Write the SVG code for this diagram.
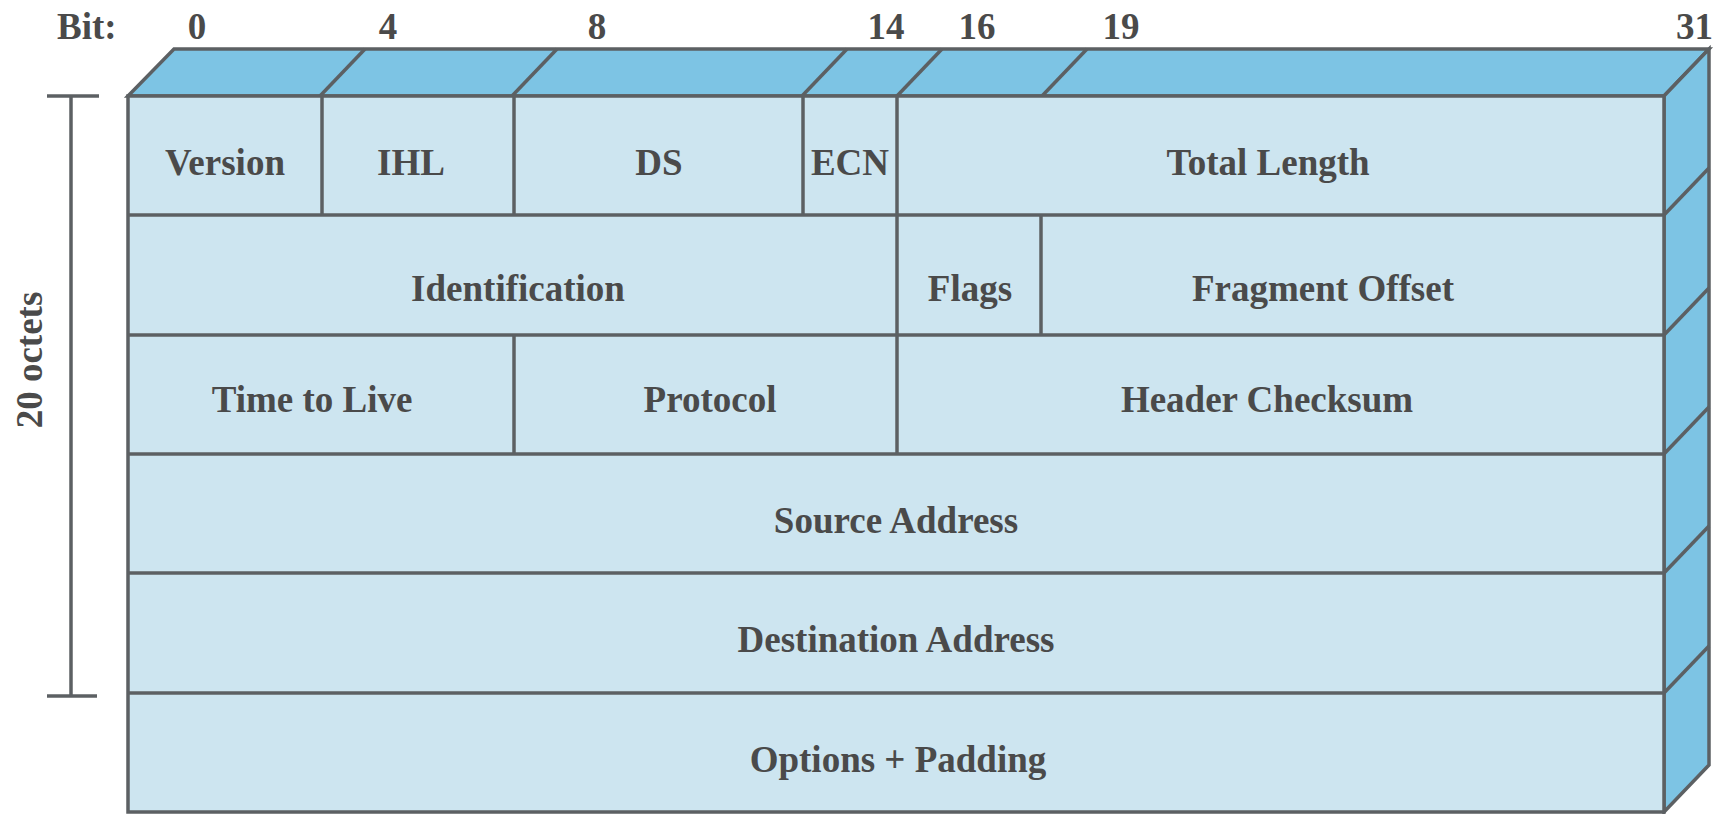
<svg xmlns="http://www.w3.org/2000/svg" width="1727" height="814" viewBox="0 0 1727 814">
<style>
.ln{stroke:#5c6063;stroke-width:3.5;fill:none;stroke-linejoin:miter}
.front{fill:#cde5f0}
.dark{fill:#7dc4e4}
text{font-family:"Liberation Serif","Times New Roman",serif;font-weight:bold;font-size:37px;fill:#4a4a4a}
.c{text-anchor:middle}
</style>
<rect width="1727" height="814" fill="#ffffff"/>
<g id="bit-labels">
<text x="57" y="39">Bit:</text>
<text class="c" x="197" y="39">0</text>
<text class="c" x="388" y="39">4</text>
<text class="c" x="597" y="39">8</text>
<text class="c" x="886" y="39">14</text>
<text class="c" x="977" y="39">16</text>
<text class="c" x="1121" y="39">19</text>
<text x="1713" y="39" text-anchor="end">31</text>
</g>
<g id="octets-bracket">
<line class="ln" x1="47" y1="96" x2="99" y2="96"/>
<line class="ln" x1="71" y1="96" x2="71" y2="696"/>
<line class="ln" x1="47" y1="696" x2="97" y2="696"/>
<text class="c" transform="translate(42,360) rotate(-90)">20 octets</text>
</g>
<g id="top-face">
<polygon class="dark ln" points="128,96 174,49 1709,49 1664,96"/>
<line class="ln" x1="320" y1="96" x2="365" y2="49"/>
<line class="ln" x1="512" y1="96" x2="557" y2="49"/>
<line class="ln" x1="802" y1="96" x2="847" y2="49"/>
<line class="ln" x1="897" y1="96" x2="942" y2="49"/>
<line class="ln" x1="1042" y1="96" x2="1087" y2="49"/>
</g>
<g id="side-face">
<polygon class="dark ln" points="1664,96 1709,49 1709,765 1664,812"/>
<line class="ln" x1="1664" y1="215" x2="1709" y2="168"/>
<line class="ln" x1="1664" y1="335" x2="1709" y2="288"/>
<line class="ln" x1="1664" y1="454" x2="1709" y2="407"/>
<line class="ln" x1="1664" y1="573" x2="1709" y2="526"/>
<line class="ln" x1="1664" y1="693" x2="1709" y2="646"/>
</g>
<g id="front-face">
<rect class="front ln" x="128" y="96" width="1536" height="716"/>
</g>
<g id="connectors">
<line class="ln" x1="128" y1="215" x2="1664" y2="215"/>
<line class="ln" x1="128" y1="335" x2="1664" y2="335"/>
<line class="ln" x1="128" y1="454" x2="1664" y2="454"/>
<line class="ln" x1="128" y1="573" x2="1664" y2="573"/>
<line class="ln" x1="128" y1="693" x2="1664" y2="693"/>
<line class="ln" x1="322" y1="96" x2="322" y2="215"/>
<line class="ln" x1="514" y1="96" x2="514" y2="215"/>
<line class="ln" x1="803" y1="96" x2="803" y2="215"/>
<line class="ln" x1="897" y1="96" x2="897" y2="454"/>
<line class="ln" x1="1041" y1="215" x2="1041" y2="335"/>
<line class="ln" x1="514" y1="335" x2="514" y2="454"/>
</g>
<g id="row1">
<g id="version"><text class="c" x="225" y="175">Version</text></g>
<g id="ihl"><text class="c" x="411" y="175">IHL</text></g>
<g id="ds"><text class="c" x="659" y="175">DS</text></g>
<g id="ecn"><text class="c" x="850" y="175">ECN</text></g>
<g id="total-length"><text class="c" x="1268" y="175">Total Length</text></g>
</g>
<g id="row2">
<g id="identification"><text class="c" x="518" y="301">Identification</text></g>
<g id="flags"><text class="c" x="970" y="301">Flags</text></g>
<g id="fragment-offset"><text class="c" x="1323" y="301">Fragment Offset</text></g>
</g>
<g id="row3">
<g id="ttl"><text class="c" x="312" y="412">Time to Live</text></g>
<g id="protocol"><text class="c" x="710" y="412">Protocol</text></g>
<g id="header-checksum"><text class="c" x="1267" y="412">Header Checksum</text></g>
</g>
<g id="source-address"><text class="c" x="896" y="533">Source Address</text></g>
<g id="destination-address"><text class="c" x="896" y="652">Destination Address</text></g>
<g id="options-padding"><text class="c" x="898" y="772">Options + Padding</text></g>
</svg>
